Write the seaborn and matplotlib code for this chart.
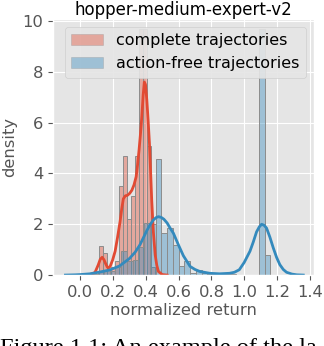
import matplotlib
matplotlib.use('Agg')
import matplotlib.pyplot as plt
from matplotlib.patches import Patch
import numpy as np
import seaborn as sns

plt.style.use('ggplot')

# histogram bins (left edges + heights), density units
red_width = 0.0245
red_lefts = [0.116, 0.1405, 0.165, 0.1895, 0.214, 0.2385, 0.263, 0.2875,
             0.312, 0.3365, 0.361, 0.3855, 0.41, 0.4345]
red_heights = [1.14, 0.85, 0.25, 0.3, 0.55, 3.5, 4.7, 2.2,
               3.1, 4.7, 9.7, 9.7, 5.1, 0.3]

blue_width = 0.035
blue_lefts = [-0.03, 0.005, 0.04, 0.075, 0.11, 0.145, 0.18, 0.215, 0.25, 0.285,
              0.32, 0.355, 0.39, 0.425, 0.46, 0.495, 0.53, 0.565, 0.6, 0.635,
              0.67, 0.705, 0.74, 0.775, 0.81, 0.845, 0.88, 0.915, 0.95, 0.985,
              1.02, 1.055, 1.09, 1.125]
blue_heights = [0.01, 0.02, 0.03, 0.05, 0.15, 0.2, 0.15, 0.3, 0.95, 0.55,
                0.6, 1.1, 2.05, 2.0, 4.57, 1.65, 1.85, 1.2, 0.37, 0.54,
                0.1, 0.2, 0.1, 0.05, 0.05, 0.04, 0.03, 0.03, 0.02, 0.02,
                0.0, 0.0, 9.7, 0.8]

# kde curves
red_kde_x = [0.05, 0.09, 0.11, 0.122, 0.134, 0.145, 0.155, 0.165, 0.172, 0.183,
             0.198, 0.213, 0.228, 0.243, 0.253, 0.263, 0.275, 0.288, 0.302,
             0.315, 0.328, 0.341, 0.35, 0.359, 0.368, 0.376, 0.384, 0.391,
             0.398, 0.406, 0.414, 0.422, 0.429, 0.436, 0.446, 0.457, 0.467,
             0.477, 0.5, 0.53]
red_kde_y = [0.0, 0.1, 0.4, 0.62, 0.7, 0.6, 0.45, 0.32, 0.27, 0.35,
             0.6, 0.94, 1.5, 2.1, 2.6, 3.0, 3.12, 3.14, 3.22,
             3.34, 3.55, 3.87, 4.35, 4.94, 5.6, 6.27, 7.1, 7.6,
             7.5, 6.9, 6.1, 5.2, 4.1, 2.94, 1.7, 0.8, 0.38,
             0.14, 0.02, 0.0]

blue_kde_x = [-0.09, -0.03, 0.0, 0.06, 0.12, 0.18, 0.24, 0.30, 0.335, 0.365,
              0.406, 0.426, 0.446, 0.462, 0.477, 0.494, 0.51, 0.53, 0.548,
              0.568, 0.598, 0.629, 0.67, 0.70, 0.73, 0.79, 0.85, 0.91, 0.94,
              0.97, 1.0, 1.035, 1.055, 1.075, 1.092, 1.106, 1.121, 1.136, 1.156,
              1.177, 1.197, 1.217, 1.238, 1.258, 1.29, 1.32, 1.36]
blue_kde_y = [0.0, 0.01, 0.02, 0.05, 0.12, 0.2, 0.36, 0.65, 0.9, 1.2,
              1.75, 1.98, 2.17, 2.26, 2.3, 2.27, 2.2, 2.05, 1.85,
              1.65, 1.2, 0.76, 0.34, 0.22, 0.14, 0.07, 0.05, 0.07, 0.11,
              0.21, 0.5, 0.94, 1.3, 1.7, 1.9, 2.0, 1.96, 1.85, 1.5,
              1.07, 0.7, 0.41, 0.22, 0.11, 0.04, 0.01, 0.0]

labels = ['complete trajectories', 'action-free trajectories']
red = '#E24A33'
blue = '#348ABD'
edge = '#8c8c8c'

fig = plt.figure(figsize=(3.24, 3.46), dpi=100)
ax = fig.add_axes([0.164, 0.205, 0.805, 0.74])


def draw_hist(lefts, heights, width, color):
    edges = list(lefts) + [lefts[-1] + width]
    centers = [l + width / 2 for l in lefts]
    sns.histplot(x=centers, weights=heights, bins=edges, ax=ax, stat='count',
                 color=color, alpha=0.4, edgecolor=edge, linewidth=0.7)


draw_hist(red_lefts, red_heights, red_width, red)
sns.lineplot(x=red_kde_x, y=red_kde_y, ax=ax, color=red, linewidth=2)
draw_hist(blue_lefts, blue_heights, blue_width, blue)
sns.lineplot(x=blue_kde_x, y=blue_kde_y, ax=ax, color=blue, linewidth=2)

ax.set_xlim(-0.165, 1.425)
ax.set_ylim(0, 10.08)
ax.set_xticks(np.arange(0, 1.41, 0.2))
ax.set_yticks([0, 2, 4, 6, 8, 10])
ax.tick_params(labelsize=11.8, colors='#555555')
ax.set_xlabel('normalized return', fontsize=11.8, color='#555555', labelpad=2)
ax.set_ylabel('density', fontsize=11.8, color='#555555')
ax.set_title('hopper-medium-expert-v2', fontsize=12, color='black', pad=3)

hands = [Patch(facecolor=red, alpha=0.4, edgecolor=edge),
         Patch(facecolor=blue, alpha=0.4, edgecolor=edge)]
ax.legend(handles=hands, labels=labels, loc='upper right', fontsize=11.5,
          framealpha=0.9)

fig.text(0.0, 0.0235, 'Figure 1.1: An example of the la', fontsize=17.6,
         family='Liberation Serif', va='top', ha='left', color='black')

fig.savefig('out.png', dpi=100)
